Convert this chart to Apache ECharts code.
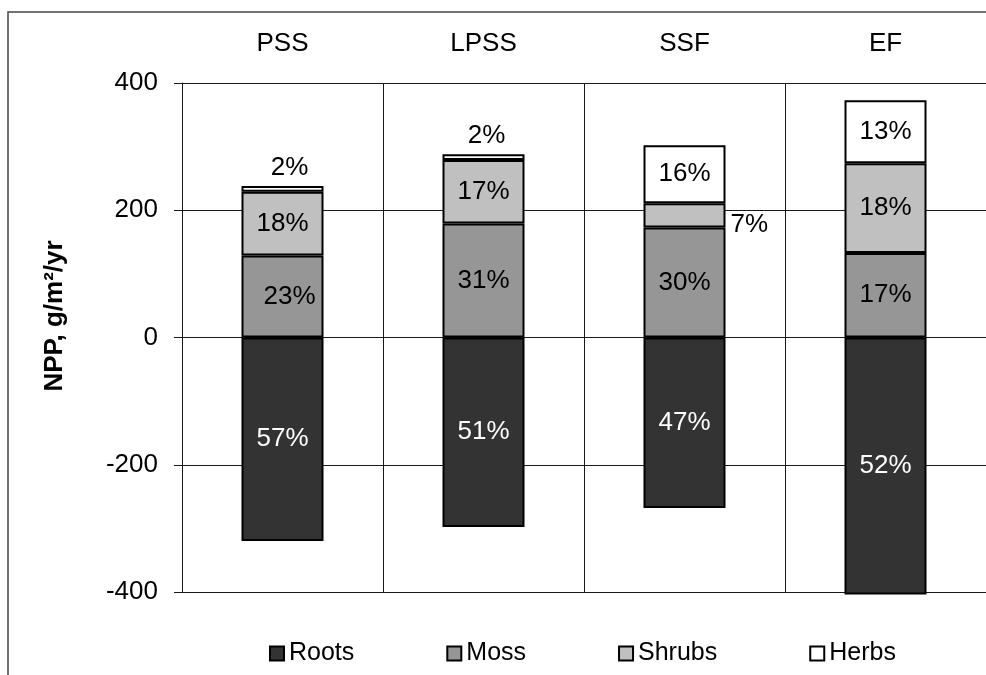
<!DOCTYPE html>
<html>
<head>
<meta charset="utf-8">
<title>NPP by component</title>
<script src="https://cdn.jsdelivr.net/npm/echarts@6/dist/echarts.min.js"></script>
<style>
  html, body { margin: 0; padding: 0; background: #fff; }
  #chart { width: 986px; height: 675px; }
</style>
</head>
<body>
<div id="chart"></div>
<script>
// Net primary production (g/m²/yr) per site, split by plant component.
// Roots are plotted below zero, above-ground parts stacked above it.
const categories = ['PSS', 'LPSS', 'SSF', 'EF'];
const seriesNames = ['Roots', 'Moss', 'Shrubs', 'Herbs'];
const roots  = [-320, -298, -268, -404];
const moss   = [129, 179, 173, 133];
const shrubs = [100, 100, 38, 141];
const herbs  = [9, 9, 91, 99];

const yMin = -400, yMax = 400, yStep = 200;

const FONT = '"Liberation Sans", Arial, sans-serif';
const colors = ['#333333', '#969696', '#c0c0c0', '#ffffff'];
const allValues = [roots, moss, shrubs, herbs];

// share of each component in the site's total NPP
const totals = categories.map((_, i) =>
  allValues.reduce((s, arr) => s + Math.abs(arr[i]), 0));
const pct = (v, i) => Math.round(Math.abs(v) / totals[i] * 100) + '%';

// per-bar label tweaks for segments too thin to hold their label
const labelTweaks = [
  {},
  { 0: { offset: [7, 0] } },
  { 2: { position: 'right', offset: [0, 9] } },
  { 0: { position: 'top', offset: [7, 0] }, 1: { position: 'top', offset: [3, 0] } }
];

const series = allValues.map((arr, s) => ({
  name: seriesNames[s],
  type: 'bar',
  stack: 'npp',
  barWidth: 82,
  clip: false,
  itemStyle: { color: colors[s], borderColor: '#000', borderWidth: 2 },
  label: {
    show: true,
    position: 'inside',
    fontFamily: FONT,
    fontSize: 26,
    color: s === 0 ? '#ffffff' : '#000000',
    formatter: p => pct(p.value, p.dataIndex)
  },
  data: arr.map((v, i) => labelTweaks[s][i]
    ? { value: v, label: labelTweaks[s][i] }
    : v)
}));

const chart = echarts.init(document.getElementById('chart'), null, { renderer: 'canvas' });
chart.setOption({
  animation: false,
  backgroundColor: '#ffffff',
  textStyle: { fontFamily: FONT },
  grid: { left: 182, top: 83, width: 806, height: 509 },
  xAxis: {
    type: 'category',
    position: 'top',
    data: categories,
    boundaryGap: true,
    axisLine: { show: true, lineStyle: { color: '#1a1a1a', width: 1 } },
    axisTick: { show: true, inside: false, length: 7, alignWithLabel: false,
                lineStyle: { color: '#1a1a1a' } },
    axisLabel: { fontFamily: FONT, fontSize: 26, color: '#000', margin: 26 },
    splitLine: { show: true, interval: 0, lineStyle: { color: '#1a1a1a', width: 1 } }
  },
  yAxis: {
    type: 'value',
    min: yMin,
    max: yMax,
    interval: yStep,
    axisLine: { show: true, lineStyle: { color: '#1a1a1a', width: 1 } },
    axisTick: { show: true, inside: false, length: 8, lineStyle: { color: '#1a1a1a' } },
    axisLabel: { fontFamily: FONT, fontSize: 26, color: '#000', margin: 24 },
    splitLine: { show: true, lineStyle: { color: '#1a1a1a', width: 1 } }
  },
  legend: {
    data: seriesNames,
    left: 264,
    top: 636,
    icon: 'rect',
    itemWidth: 14,
    itemHeight: 14,
    itemGap: 92,
    textStyle: { fontFamily: FONT, fontSize: 25, color: '#000' },
    itemStyle: { borderColor: '#000', borderWidth: 2 }
  },
  graphic: [
    {
      type: 'rect',
      shape: { x: 8, y: 12, width: 1000, height: 700 },
      style: { fill: 'none', stroke: '#444', lineWidth: 1.5 },
      silent: true
    },
    {
      type: 'text',
      x: 55, y: 316,
      rotation: Math.PI / 2,
      style: {
        text: 'NPP, g/m²/yr',
        font: 'bold 26px ' + FONT,
        fill: '#000',
        textAlign: 'center',
        textVerticalAlign: 'middle'
      }
    }
  ],
  series: series
});
</script>
</body>
</html>
